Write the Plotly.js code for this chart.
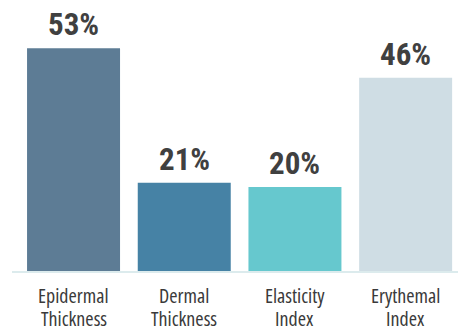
<!DOCTYPE html>
<html>
<head>
<meta charset="utf-8">
<script src="https://cdn.plot.ly/plotly-3.0.1.min.js"></script>
<style>
html,body{margin:0;padding:0;background:#fff;}
#chart{width:458px;height:326px;}
svg text{font-stretch:condensed;}
</style>
</head>
<body>
<div id="chart"></div>
<script>
const categoryLine1 = ["Epidermal", "Dermal", "Elasticity", "Erythemal"];
const categoryLine2 = ["Thickness", "Thickness", "Index", "Index"];
const values = [53, 21, 20, 46];
const valueLabels = ["53%", "21%", "20%", "46%"];
const barColors = ["#5D7C95", "#4682A5", "#66C8CE", "#CFDDE4"];

const VALUE_FONT = 'Roboto, sans-serif';
const LABEL_FONT = '"Open Sans", sans-serif';
const idx = values.map((v, i) => i);

const trace = {
  type: 'bar',
  x: idx,
  y: values,
  width: 0.84,
  marker: {color: barColors},
  hoverinfo: 'skip'
};

const valueAnn = idx.map(i => ({
  x: i, y: values[i], xref: 'x', yref: 'y',
  text: '<b>' + valueLabels[i] + '</b>',
  showarrow: false, yanchor: 'bottom', yshift: 3,
  font: {family: VALUE_FONT, size: 31, color: '#404040'}
}));
const line1Ann = idx.map(i => ({
  x: i, y: 0, xref: 'x', yref: 'paper',
  text: categoryLine1[i],
  showarrow: false, yanchor: 'middle', yshift: -24,
  font: {family: LABEL_FONT, size: 20, color: '#3a3a3a'}
}));
const line2Ann = idx.map(i => ({
  x: i, y: 0, xref: 'x', yref: 'paper',
  text: categoryLine2[i],
  showarrow: false, yanchor: 'middle', yshift: -47,
  font: {family: LABEL_FONT, size: 20, color: '#3a3a3a'}
}));

const layout = {
  width: 458, height: 326,
  margin: {l: 12, r: 0, t: 0, b: 55},
  paper_bgcolor: '#fff', plot_bgcolor: '#fff',
  showlegend: false,
  xaxis: {
    range: [-0.556, 3.473],
    showticklabels: false,
    showline: true, linecolor: '#DCEBED', linewidth: 2,
    showgrid: false, zeroline: false, ticks: '',
    fixedrange: true
  },
  yaxis: {
    range: [0, 64.5], visible: false, showgrid: false, zeroline: false, fixedrange: true
  },
  annotations: valueAnn.concat(line1Ann, line2Ann)
};

Plotly.newPlot('chart', [trace], layout, {displayModeBar: false, staticPlot: true});
</script>
</body>
</html>
